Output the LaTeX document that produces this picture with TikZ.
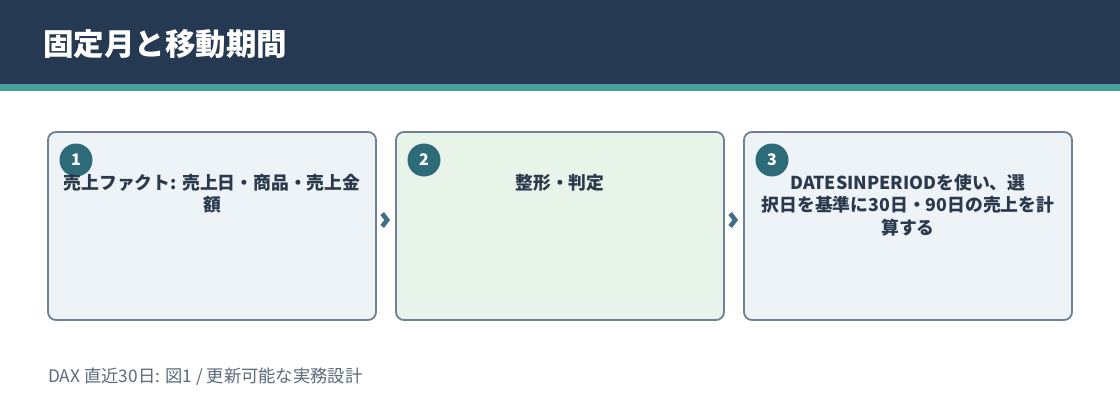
\documentclass[tikz,border=0pt]{standalone}
\usepackage{fontspec}
\setmainfont{Noto Sans CJK JP}
\usetikzlibrary{calc}
\definecolor{hdr}{HTML}{253A52}
\definecolor{teal}{HTML}{46A29A}
\definecolor{badge}{HTML}{2E6B78}
\definecolor{bord}{HTML}{6E8192}
\definecolor{fillA}{HTML}{EEF3F8}
\definecolor{fillB}{HTML}{E8F3EA}
\definecolor{txt}{HTML}{2A3A4C}
\definecolor{foot}{HTML}{5B6B7B}
\definecolor{chev}{HTML}{3F6E87}
\tikzset{
  x=1pt, y=-1pt,
  card/.style={draw=bord, line width=1.8pt, rounded corners=8pt, minimum width=328pt, minimum height=188pt, inner sep=0pt},
  badgec/.style={circle, fill=badge, minimum size=33pt, inner sep=0pt, text=white, font=\fontsize{16}{18}\selectfont\bfseries},
  cardtext/.style={anchor=north, align=center, text=txt, font=\fontsize{17.8}{22.5}\selectfont\bfseries, inner sep=0pt},
  chevline/.style={draw=chev, line width=4.6pt, miter limit=10}
}
\begin{document}
\begin{tikzpicture}
\useasboundingbox (0,0) rectangle (1120,420);
\fill[white] (0,0) rectangle (1120,420);
\fill[hdr] (0,0) rectangle (1120,84);
\fill[teal] (0,84) rectangle (1120,91);
\node[anchor=west, text=white, font=\fontsize{30.5}{33}\selectfont\bfseries, inner sep=0pt] (title) at (43,44) {固定月と移動期間};

\node[card, fill=fillA] (b1) at (212,226) {};
\node[card, fill=fillB] (b2) at (560,226) {};
\node[card, fill=fillA] (b3) at (908,226) {};

\node[badgec] (n1) at (76,160) {1};
\node[badgec] (n2) at (424,160) {2};
\node[badgec] (n3) at (772,160) {3};

\node[cardtext] (t1) at (212,174) {売上ファクト: 売上日・商品・売上金\\額};
\node[cardtext] (t2) at (560,174) {整形・判定};
\node[cardtext] (t3) at (908,174) {DATESINPERIODを使い、選\\択日を基準に30日・90日の売上を計\\算する};

\path (b1.east) -- (b2.west) coordinate[pos=0.4] (m1);
\path (b2.east) -- (b3.west) coordinate[pos=0.4] (m2);
\draw[chevline] ($(m1)+(-2,-12.5)$) -- ($(m1)+(3,-6)$) -- ($(m1)+(-2,0.5)$);
\draw[chevline] ($(m2)+(-2,-12.5)$) -- ($(m2)+(3,-6)$) -- ($(m2)+(-2,0.5)$);

\node[anchor=west, text=foot, font=\fontsize{17.3}{20}\selectfont, inner sep=0pt] (ft) at (48,377) {DAX 直近30日: 図1 / 更新可能な実務設計};
\end{tikzpicture}
\end{document}
